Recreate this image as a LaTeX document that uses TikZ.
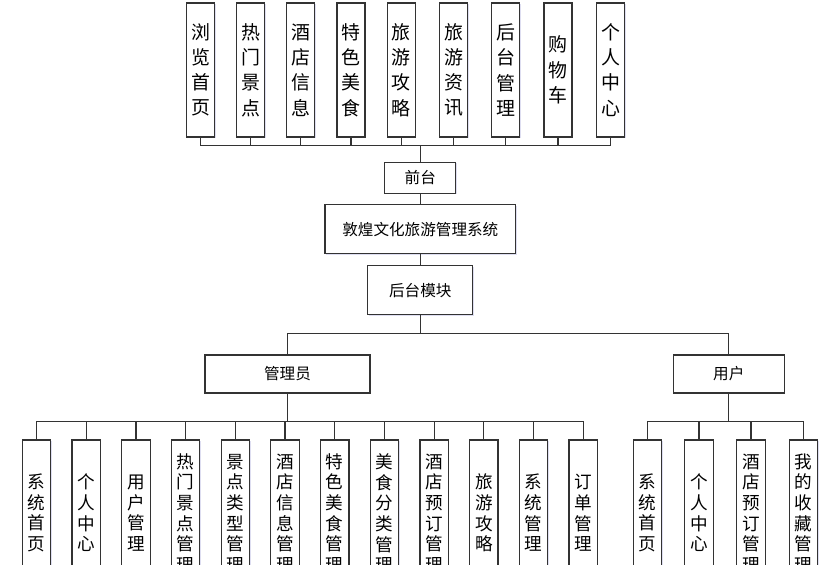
\documentclass[tikz,border=0pt]{standalone}
\usepackage{fontspec}
\newfontfamily\cjk{Noto Sans CJK SC}
\usetikzlibrary{shadows}
\def\pxu{0.75pt}
\definecolor{linec}{HTML}{333333}
\tikzset{
  boxbase/.style={draw=linec, line width=0.9pt, fill=white, inner sep=0pt,
    drop shadow={opacity=0.18, fill=blue!40!gray, shadow xshift=0.8pt, shadow yshift=-0.8pt}},
  tbox/.style={boxbase, minimum width=28*\pxu, minimum height=134*\pxu, align=center,
    font=\cjk\fontsize{14.2}{18.9}\selectfont},
  bbox/.style={boxbase, minimum width=28.4*\pxu, minimum height=146*\pxu, align=center,
    font=\cjk\fontsize{13.2}{15.5}\selectfont},
  hbox/.style={boxbase, font=\cjk\fontsize{11.7}{14}\selectfont},
  conn/.style={draw=linec, line width=0.9pt}
}
\begin{document}
\begin{tikzpicture}[x=0.75pt,y=-0.75pt]
\useasboundingbox (0,0) rectangle (820,564);
\clip (0,0) rectangle (820,564);
\fill[white] (0,0) rectangle (820,564);
% top row
\node[tbox] (t1) at (200.7,70) {浏\\览\\首\\页};
\node[tbox] (t2) at (250.7,70) {热\\门\\景\\点};
\node[tbox] (t3) at (300.7,70) {酒\\店\\信\\息};
\node[tbox] (t4) at (351,70) {特\\色\\美\\食};
\node[tbox] (t5) at (401.3,70) {旅\\游\\攻\\略};
\node[tbox] (t6) at (453.5,70) {旅\\游\\资\\讯};
\node[tbox] (t7) at (505.8,70) {后\\台\\管\\理};
\node[tbox] (t8) at (558,70) {购\\物\\车};
\node[tbox] (t9) at (610.5,70) {个\\人\\中\\心};
% middle
\node[hbox, minimum width=71*\pxu, minimum height=31*\pxu] (front) at (420.3,177.7) {前台};
\node[hbox, minimum width=190.7*\pxu, minimum height=49*\pxu] (sys) at (420.3,229.2) {敦煌文化旅游管理系统};
\node[hbox, minimum width=105*\pxu, minimum height=49*\pxu] (back) at (420.3,290.3) {后台模块};
\node[hbox, minimum width=165*\pxu, minimum height=38*\pxu] (admin) at (287.5,374) {管理员};
\node[hbox, minimum width=111*\pxu, minimum height=38*\pxu] (user) at (728.8,374) {用户};
% admin children
\node[bbox] (a1) at (36.5,513) {系\\统\\首\\页};
\node[bbox] (a2) at (86.2,513) {个\\人\\中\\心};
\node[bbox] (a3) at (135.9,513) {用\\户\\管\\理};
\node[bbox] (a4) at (185.6,513) {热\\门\\景\\点\\管\\理};
\node[bbox] (a5) at (235.3,513) {景\\点\\类\\型\\管\\理};
\node[bbox] (a6) at (285,513) {酒\\店\\信\\息\\管\\理};
\node[bbox] (a7) at (334.7,513) {特\\色\\美\\食\\管\\理};
\node[bbox] (a8) at (384.4,513) {美\\食\\分\\类\\管\\理};
\node[bbox] (a9) at (434.1,513) {酒\\店\\预\\订\\管\\理};
\node[bbox] (a10) at (483.8,513) {旅\\游\\攻\\略};
\node[bbox] (a11) at (533.5,513) {系\\统\\管\\理};
\node[bbox] (a12) at (583.2,513) {订\\单\\管\\理};
% user children
\node[bbox] (u1) at (647.3,513) {系\\统\\首\\页};
\node[bbox] (u2) at (699,513) {个\\人\\中\\心};
\node[bbox] (u3) at (751,513) {酒\\店\\预\\订\\管\\理};
\node[bbox] (u4) at (803.3,513) {我\\的\\收\\藏\\管\\理};
% bus coordinates
\coordinate (tbus) at (420.3,145.7);
\coordinate (rbus) at (420.3,333.3);
\coordinate (abus) at (287.5,421.7);
\coordinate (ubus) at (728.8,421.7);
% connectors
\foreach \i in {1,...,9} { \draw[conn] (t\i.south) |- (tbus); }
\draw[conn] (tbus) -- (front.north);
\draw[conn] (front.south) -- (sys.north);
\draw[conn] (sys.south) -- (back.north);
\draw[conn] (back.south) -- (rbus);
\draw[conn] (admin.north) |- (rbus);
\draw[conn] (user.north) |- (rbus);
\draw[conn] (admin.south) -- (abus);
\draw[conn] (user.south) -- (ubus);
\foreach \i in {1,...,12} { \draw[conn] (a\i.north) |- (abus); }
\foreach \i in {1,...,4} { \draw[conn] (u\i.north) |- (ubus); }
\end{tikzpicture}
\end{document}
